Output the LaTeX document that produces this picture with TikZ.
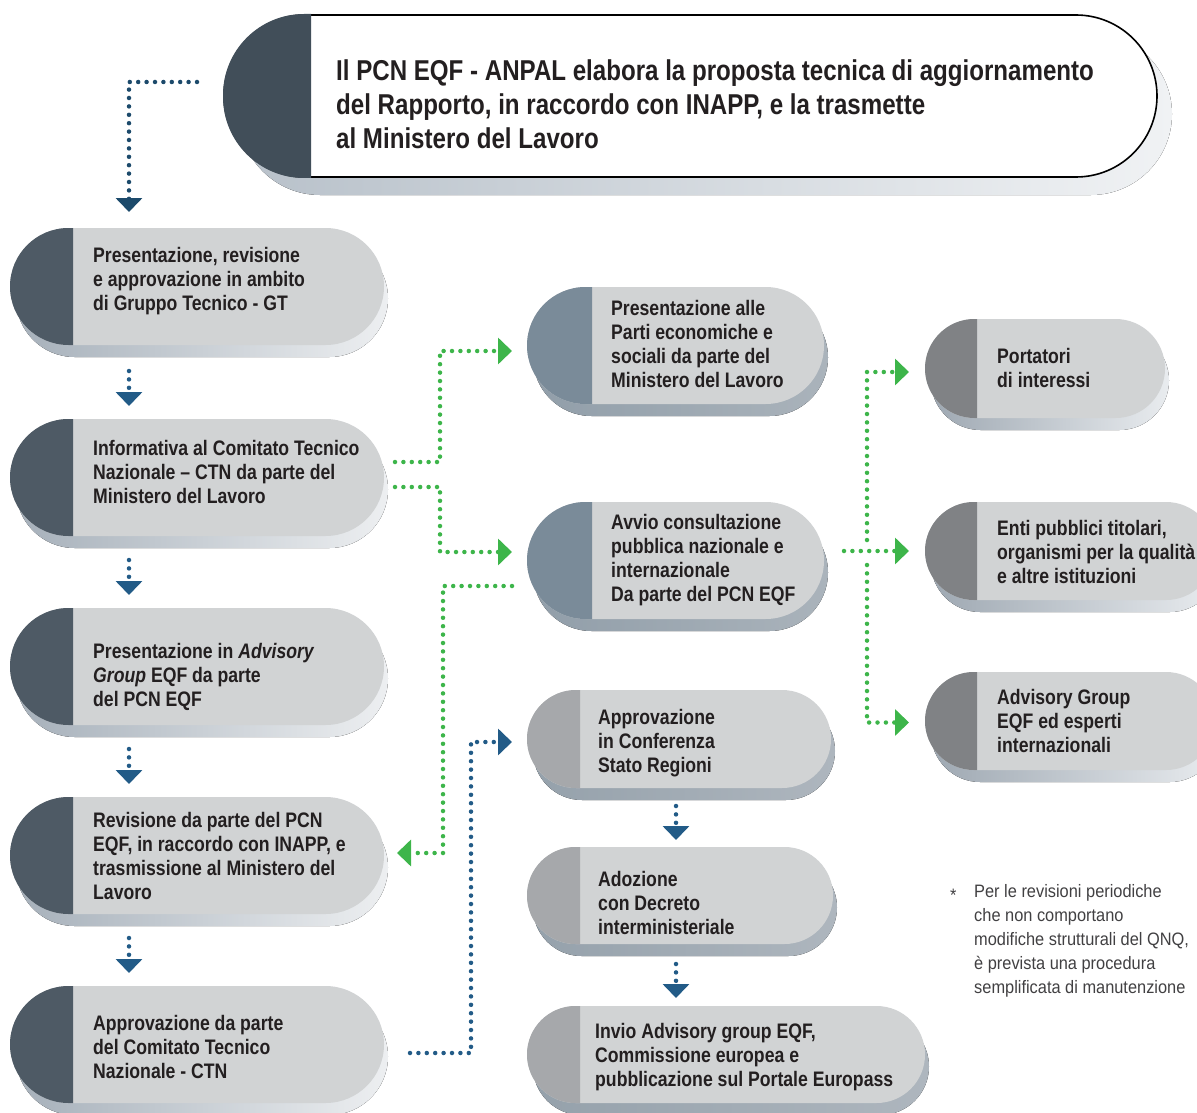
\documentclass[tikz,border=0pt]{standalone}
\usepackage{fontspec}
\setmainfont{Liberation Sans}[FakeStretch=0.84]
\newfontfamily\notefont{Liberation Sans}[FakeStretch=0.91]
\usetikzlibrary{arrows.meta}

\definecolor{textdark}{HTML}{231F20}
\definecolor{notegray}{HTML}{414042}
\definecolor{pillbody}{HTML}{D1D3D4}
\definecolor{topcap}{HTML}{414E59}
\definecolor{leftcap}{HTML}{4E5A65}
\definecolor{midcap}{HTML}{7A8B99}
\definecolor{graycap}{HTML}{A6A8AB}
\definecolor{rightcap}{HTML}{808285}
\definecolor{flowblue}{HTML}{225B87}
\definecolor{topblue}{HTML}{1C4A6B}
\definecolor{flowgreen}{HTML}{3DB54A}

\tikzset{
  boxtext/.style={anchor=west, align=left, inner sep=0pt, text=textdark,
    font=\fontsize{21}{24}\selectfont\bfseries},
  pillarea/.style={inner sep=0pt, outer sep=0pt},
  leftshadow/.style={left color={rgb,255:red,166;green,176;blue,186}, right color={rgb,255:red,237;green,239;blue,241}},
  midshadow/.style={left color={rgb,255:red,145;green,158;blue,169}, right color={rgb,255:red,170;green,179;blue,187}},
  grayshadow/.style={left color={rgb,255:red,149;green,161;blue,171}, right color={rgb,255:red,174;green,182;blue,190}},
  rightshadow/.style={left color={rgb,255:red,158;green,168;blue,178}, right color={rgb,255:red,233;green,236;blue,239}},
  blueflow/.style={line width=4.5pt, line cap=round, dash pattern=on 0pt off 8.4pt,
    draw=flowblue, -{Triangle[length=14pt,width=26pt]}},
  greenflow/.style={blueflow, draw=flowgreen},
}

\newcommand{\flowpill}[8]{%
  \pgfmathsetmacro{\pillr}{(#5-#3)/2}%
  \pgfmathsetmacro{\pillw}{#4-#2}%
  \pgfmathsetmacro{\pillh}{#5-#3}%
  \fill[#8, rounded corners=\pillr pt] (#2+6,#3+12) rectangle (#4+4,#5+12);
  \fill[pillbody, rounded corners=\pillr pt] (#2,#3) rectangle (#4,#5);
  \begin{scope}
    \clip (#2,#3) rectangle (#6,#5);
    \fill[#7, rounded corners=\pillr pt] (#2,#3) rectangle (#4,#5);
  \end{scope}
  \node[pillarea, minimum width=\pillw pt, minimum height=\pillh pt] (#1) at ({(#2+#4)/2},{(#3+#5)/2}) {};
}

\begin{document}
\begin{tikzpicture}[x=1pt, y=-1pt]
  \path[use as bounding box, clip] (0,0) rectangle (1197,1113);
  \coordinate (colx) at (129,0);
  \coordinate (midx) at (676,0);
  \coordinate (gx) at (440,0);
  \coordinate (gx2) at (443,0);
  \coordinate (bx) at (471,0);
  \coordinate (rx) at (867,0);

  \fill[left color={rgb,255:red,184;green,193;blue,202}, right color={rgb,255:red,240;green,242;blue,244}, rounded corners=81pt] (239,33) rectangle (1172,195);
  \filldraw[fill=white, draw=black, line width=1.6pt, rounded corners=81pt] (224,15) rectangle (1157,177);
  \begin{scope}
    \clip (220,10) rectangle (311,182);
    \fill[topcap, rounded corners=81pt] (223,14) rectangle (1157,178);
  \end{scope}
  \node[pillarea, minimum width=933pt, minimum height=162pt] (anpal) at (690.5,96) {};
  \node[boxtext, font=\fontsize{28.7}{34}\selectfont\bfseries] (anpal-t) at (336,104)
    {Il PCN EQF - ANPAL elabora la proposta tecnica di aggiornamento\\del Rapporto, in raccordo con INAPP, e la trasmette\\al Ministero del Lavoro};

  \flowpill{gt}{10}{228}{384}{345}{73}{leftcap}{leftshadow}
  \flowpill{inform}{10}{419}{384}{536}{73}{leftcap}{leftshadow}
  \flowpill{advisory}{10}{608}{384}{725}{73}{leftcap}{leftshadow}
  \flowpill{revisione}{10}{797}{384}{914}{73}{leftcap}{leftshadow}
  \flowpill{approvctn}{10}{986}{384}{1103}{73}{leftcap}{leftshadow}
  \flowpill{parti}{527}{287}{824}{404}{592}{midcap}{midshadow}
  \flowpill{consult}{527}{502}{824}{619}{592}{midcap}{midshadow}
  \flowpill{conferenza}{527}{690}{831}{788}{580}{graycap}{grayshadow}
  \flowpill{decreto}{527}{847}{833}{944}{580}{graycap}{grayshadow}
  \flowpill{europass}{527}{1006}{925}{1103}{580}{graycap}{grayshadow}
  \flowpill{portatori}{925}{319}{1165}{418}{977}{rightcap}{rightshadow}
  \flowpill{enti}{925}{502}{1215}{600}{977}{rightcap}{rightshadow}
  \flowpill{esperti}{925}{672}{1215}{770}{977}{rightcap}{rightshadow}

  \node[boxtext] (gt-t) at (93,281) {Presentazione, revisione\\e approvazione in ambito\\di Gruppo Tecnico - GT};
  \node[boxtext] (inform-t) at (93,472) {Informativa al Comitato Tecnico\\Nazionale – CTN da parte del\\Ministero del Lavoro};
  \node[boxtext] (advisory-t) at (93,677) {Presentazione in \textit{Advisory}\\\textit{Group} EQF da parte\\del PCN EQF};
  \node[boxtext] (revisione-t) at (93,856) {Revisione da parte del PCN\\EQF, in raccordo con INAPP, e\\trasmissione al Ministero del\\Lavoro};
  \node[boxtext] (approvctn-t) at (93,1047) {Approvazione da parte\\del Comitato Tecnico\\Nazionale - CTN};
  \node[boxtext] (parti-t) at (611,344) {Presentazione alle\\Parti economiche e\\sociali da parte del\\Ministero del Lavoro};
  \node[boxtext] (consult-t) at (611,560) {Avvio consultazione\\pubblica nazionale e\\internazionale\\Da parte del PCN EQF};
  \node[boxtext] (conferenza-t) at (598,743) {Approvazione\\in Conferenza\\Stato Regioni};
  \node[boxtext] (decreto-t) at (598,903) {Adozione\\con Decreto\\interministeriale};
  \node[boxtext] (europass-t) at (595,1057) {Invio Advisory group EQF,\\Commissione europea e\\pubblicazione sul Portale Europass};
  \node[boxtext] (portatori-t) at (997,368) {Portatori\\di interessi};
  \node[boxtext] (enti-t) at (997,552) {Enti pubblici titolari,\\organismi per la qualità\\e altre istituzioni};
  \node[boxtext] (esperti-t) at (997,721) {Advisory Group\\EQF ed esperti\\internazionali};

  \node[anchor=west, inner sep=0pt, text=notegray, font=\notefont\fontsize{18}{24}\selectfont] (nota-star) at (950,895) {*};
  \node[boxtext, text=notegray, font=\notefont\fontsize{18}{24}\selectfont] (nota) at (974,941)
    {Per le revisioni periodiche\\che non comportano\\modifiche strutturali del QNQ,\\è prevista una procedura\\semplificata di manutenzione};

  \draw[blueflow, draw=topblue] ([xshift=-27pt,yshift=14pt]anpal.west) -| ([yshift=16pt]gt.north -| colx);
  \draw[blueflow] ([yshift=-26pt]gt.south -| colx) -- ([yshift=13pt]inform.north -| colx);
  \draw[blueflow] ([yshift=-24pt]inform.south -| colx) -- ([yshift=13pt]advisory.north -| colx);
  \draw[blueflow] ([yshift=-24pt]advisory.south -| colx) -- ([yshift=13pt]revisione.north -| colx);
  \draw[blueflow] ([yshift=-24pt]revisione.south -| colx) -- ([yshift=13pt]approvctn.north -| colx);
  \draw[blueflow] ([yshift=-18pt]conferenza.south -| midx) -- ([yshift=7pt]decreto.north -| midx);
  \draw[blueflow] ([yshift=-20pt]decreto.south -| midx) -- ([yshift=8pt]europass.north -| midx);
  \draw[blueflow] ([xshift=26pt,yshift=-8.5pt]approvctn.east) -| ([yshift=-3pt]conferenza.west -| bx) -- ([xshift=-15pt,yshift=-3pt]conferenza.west);

  \draw[greenflow] ([xshift=11pt,yshift=15.5pt]inform.east) -| ([yshift=-5.5pt]parti.west -| gx) -- ([xshift=-15pt,yshift=-5.5pt]parti.west);
  \draw[greenflow] ([xshift=11pt,yshift=-9.5pt]inform.east) -| ([yshift=8.5pt]consult.west -| gx) -- ([xshift=-15pt,yshift=8.5pt]consult.west);
  \draw[greenflow] ([xshift=-15pt,yshift=-25.5pt]consult.west) -| ([yshift=2.5pt]revisione.east -| gx2) -- ([xshift=13pt,yshift=2.5pt]revisione.east);
  \draw[greenflow] ([xshift=20pt]consult.east |- enti.west) -- ([xshift=-16pt]enti.west);
  \draw[greenflow] ([yshift=11pt]enti.west -| rx) |- ([xshift=-16pt,yshift=-3.5pt]portatori.west);
  \draw[greenflow] ([yshift=-14pt]enti.west -| rx) |- ([xshift=-16pt,yshift=-1.5pt]esperti.west);
\end{tikzpicture}
\end{document}
